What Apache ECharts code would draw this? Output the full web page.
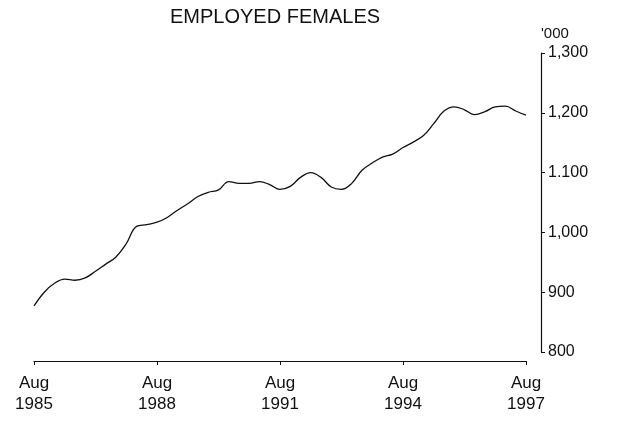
<!DOCTYPE html>
<html>
<head>
<meta charset="utf-8">
<script src="https://cdn.jsdelivr.net/npm/echarts@6/dist/echarts.min.js"></script>
<style>
  html, body { margin: 0; padding: 0; background: #fff; }
  #chart { width: 618px; height: 423px; }
</style>
</head>
<body>
<div id="chart"></div>
<script>
// quarterly readings, Aug 1985 .. Aug 1997 ('000 persons)
const monthNames = ['Aug', 'Nov', 'Feb', 'May']
const quarters = []
for (let i = 0; i < 49; i++) {
  const m = 7 + i * 3
  quarters.push(monthNames[i % 4] + ' ' + (1985 + Math.floor(m / 12)))
}
const employed = [
  877, 900, 915, 922, 920, 924, 935, 947, 959, 981,
  1010, 1013, 1017, 1025, 1037, 1048, 1060, 1067, 1071, 1085,
  1082, 1082, 1085, 1080, 1072, 1077, 1092, 1100, 1092, 1076,
  1072, 1082, 1104, 1116, 1126, 1131, 1142, 1151, 1162, 1182,
  1203, 1210, 1205, 1197, 1202, 1210, 1211, 1203, 1196
]
const xTickLabels = ['Aug\n1985', 'Aug\n1988', 'Aug\n1991', 'Aug\n1994', 'Aug\n1997']
const yTickLabels = { 800: '800', 900: '900', 1000: '1,000', 1100: '1.100', 1200: '1,200', 1300: '1,300' }

const font = "'Liberation Sans', Arial, Helvetica, sans-serif"
const chart = echarts.init(document.getElementById('chart'), null, { renderer: 'canvas' })
chart.setOption({
  backgroundColor: '#fff',
  animation: false,
  title: {
    text: 'EMPLOYED FEMALES',
    left: 170, top: 7, padding: 0,
    textStyle: { fontFamily: font, fontSize: 20, fontWeight: 'normal', color: '#111' }
  },
  grid: { left: 34, right: 92, top: 53, bottom: 71, containLabel: false },
  xAxis: {
    type: 'category',
    data: quarters,
    boundaryGap: false,
    offset: 9,
    axisLine: { lineStyle: { color: '#111', width: 1.2 } },
    axisTick: { interval: 11, length: 4, lineStyle: { color: '#111' } },
    axisLabel: {
      interval: 11,
      margin: 12,
      color: '#111', fontFamily: font, fontSize: 17, lineHeight: 21,
      formatter: (v, i) => xTickLabels[i / 12]
    },
    splitLine: { show: false }
  },
  yAxis: {
    type: 'value',
    position: 'right',
    offset: 15,
    min: 800, max: 1300, interval: 100,
    name: "'000",
    nameLocation: 'end',
    nameGap: 12,
    nameTextStyle: { fontFamily: font, fontSize: 15, color: '#111', align: 'left', verticalAlign: 'bottom' },
    axisLine: { show: true, lineStyle: { color: '#111', width: 1.2 } },
    axisTick: { show: true, length: 4, lineStyle: { color: '#111' } },
    axisLabel: {
      margin: 7,
      color: '#111', fontFamily: font, fontSize: 16,
      formatter: v => yTickLabels[v]
    },
    splitLine: { show: false }
  },
  series: [{
    name: 'Employed females',
    type: 'line',
    data: employed,
    smooth: 0.4,
    showSymbol: false,
    lineStyle: { color: '#111', width: 1.3 }
  }]
})
</script>
</body>
</html>
